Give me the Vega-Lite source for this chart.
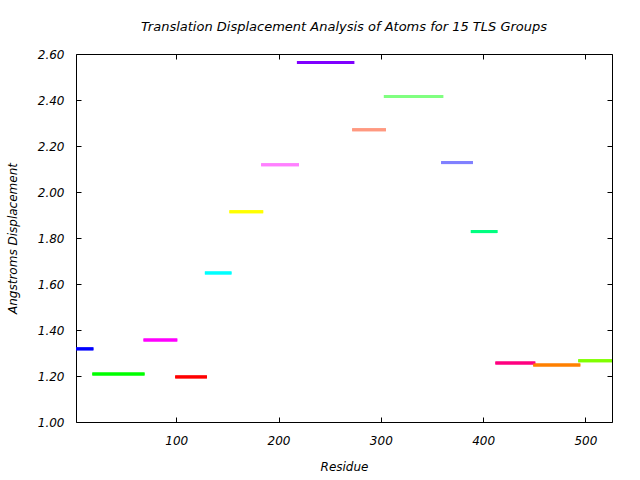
{
  "$schema": "https://vega.github.io/schema/vega-lite/v6.json",
  "width": 536,
  "height": 368,
  "autosize": "none",
  "padding": {"left": 76, "top": 54, "right": 28, "bottom": 58},
  "background": "white",
  "title": {
    "text": "Translation Displacement Analysis of Atoms for 15 TLS Groups",
    "font": "DejaVu Sans",
    "fontSize": 13,
    "fontStyle": "italic",
    "fontWeight": "normal",
    "color": "black",
    "anchor": "middle",
    "offset": 14
  },
  "config": {
    "view": {"stroke": "black", "strokeWidth": 1},
    "axis": {
      "labelFont": "DejaVu Sans",
      "labelFontStyle": "italic",
      "labelFontSize": 12,
      "labelColor": "black",
      "titleFont": "DejaVu Sans",
      "titleFontStyle": "italic",
      "titleFontSize": 12,
      "titleFontWeight": "normal",
      "titleColor": "black",
      "tickColor": "black",
      "tickSize": -5,
      "domain": false,
      "grid": false
    }
  },
  "data": {
    "values": [
      {"group": "1", "start": 2, "end": 19, "disp": 1.318},
      {"group": "2", "start": 18, "end": 69, "disp": 1.209},
      {"group": "3", "start": 68, "end": 101, "disp": 1.357},
      {"group": "4", "start": 99, "end": 130, "disp": 1.196},
      {"group": "5", "start": 128, "end": 154, "disp": 1.648},
      {"group": "6", "start": 152, "end": 185, "disp": 1.914},
      {"group": "7", "start": 183, "end": 220, "disp": 2.119},
      {"group": "8", "start": 218, "end": 274, "disp": 2.563},
      {"group": "9", "start": 272, "end": 305, "disp": 2.271},
      {"group": "10", "start": 303, "end": 361, "disp": 2.415},
      {"group": "11", "start": 359, "end": 390, "disp": 2.128},
      {"group": "12", "start": 388, "end": 414, "disp": 1.828},
      {"group": "13", "start": 412, "end": 451, "disp": 1.257},
      {"group": "14", "start": 449, "end": 495, "disp": 1.248},
      {"group": "15", "start": 493, "end": 526, "disp": 1.266}
    ]
  },
  "layer": [
    {
      "mark": {"type": "rule", "strokeWidth": 3, "strokeCap": "butt"},
      "encoding": {
        "x": {
          "field": "start", "type": "quantitative",
          "scale": {"domain": [2, 526], "nice": false, "zero": false},
          "axis": {"orient": "bottom", "title": "Residue", "values": [100, 200, 300, 400, 500], "format": "d", "labelPadding": 18, "titlePadding": 15}
        },
        "x2": {"field": "end"},
        "y": {
          "field": "disp", "type": "quantitative",
          "scale": {"domain": [1, 2.6], "nice": false, "zero": false},
          "axis": {"orient": "left", "title": "Angstroms Displacement", "values": [1, 1.2, 1.4, 1.6, 1.8, 2, 2.2, 2.4, 2.6], "format": ".2f", "labelPadding": 17, "titlePadding": 18}
        },
        "color": {
          "field": "group", "type": "nominal", "legend": null,
          "scale": {
            "domain": ["1","2","3","4","5","6","7","8","9","10","11","12","13","14","15"],
            "range": ["#0000ff","#00ff00","#ff00ff","#ff0000","#00ffff","#ffff00","#ff80ff","#8000ff","#ff9980","#80ff80","#8080ff","#00ff80","#ff0080","#ff8000","#80ff00"]
          }
        }
      }
    },
    {
      "mark": {"type": "rule", "strokeWidth": 3, "strokeCap": "butt"},
      "encoding": {
        "x": {
          "field": "start", "type": "quantitative",
          "axis": {"orient": "top", "title": null, "values": [100, 200, 300, 400, 500], "labels": false}
        },
        "x2": {"field": "end"},
        "y": {
          "field": "disp", "type": "quantitative",
          "axis": {"orient": "right", "title": null, "values": [1, 1.2, 1.4, 1.6, 1.8, 2, 2.2, 2.4, 2.6], "labels": false}
        },
        "color": {"field": "group", "type": "nominal", "legend": null}
      }
    }
  ],
  "resolve": {"axis": {"x": "independent", "y": "independent"}}
}
